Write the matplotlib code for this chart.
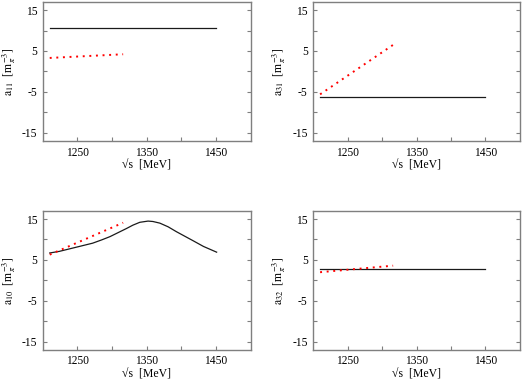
import matplotlib
matplotlib.use("Agg")
import matplotlib.pyplot as plt
import numpy as np

plt.rcParams['font.family'] = ['Liberation Serif', 'DejaVu Serif']
plt.rcParams['mathtext.fontset'] = 'stix'

# Panel data
x_full = [1210, 1450]
x_red = [1210, 1316]

a11_black = [10.6, 10.6]
a11_red = [3.3, 4.2]

a31_black = [-6.2, -6.2]
a31_red = [-5.6, 6.5]

a10_x = [1210, 1224, 1248, 1272, 1285, 1297, 1309, 1321, 1330, 1340, 1352,
         1359, 1369, 1381, 1393, 1405, 1417, 1432, 1451]
a10_black = [6.7, 7.1, 8.1, 9.1, 9.9, 10.7, 11.7, 12.7, 13.5, 14.2, 14.5,
             14.4, 14.0, 13.1, 11.9, 10.8, 9.7, 8.3, 6.9]
a10_red = [6.3, 14.1]

a32_black = [2.8, 2.8]
a32_red = [2.0, 3.6]

xticks = [1250, 1300, 1350, 1400, 1450]
xticklabels = ['1250', '', '1350', '', '1450']
yticks = [-15, -10, -5, 0, 5, 10, 15]
yticklabels = ['-15', '', '-5', '', '5', '', '15']

fig = plt.figure(figsize=(5.22, 3.82), dpi=100)

panels = [
    ([0.082, 0.631, 0.398, 0.364], '11', x_full, a11_black, x_red, a11_red),
    ([0.600, 0.631, 0.396, 0.364], '31', x_full, a31_black, x_red, a31_red),
    ([0.082, 0.084, 0.398, 0.364], '10', a10_x, a10_black, x_red, a10_red),
    ([0.600, 0.084, 0.396, 0.364], '32', x_full, a32_black, x_red, a32_red),
]

grey = '#7f7f7f'
for rect, sub, xb, yb, xr, yr in panels:
    ax = fig.add_axes(rect)
    ax.plot(xb, yb, color='#1a1a1a', lw=0.9, solid_joinstyle='round')
    ax.plot(xr, yr, color='red', lw=1.4, linestyle=(0, (1, 2.4)))
    ax.set_xlim(1200, 1500)
    ax.set_ylim(-17, 17)
    ax.set_xticks(xticks)
    ax.set_xticklabels(xticklabels)
    ax.set_yticks(yticks)
    ax.set_yticklabels(yticklabels)
    ax.tick_params(direction='in', length=3, width=0.8, color=grey, labelsize=8.3,
                   right=True, top=False, pad=4)
    for s in ax.spines.values():
        s.set_color(grey)
        s.set_linewidth(1.0)
    ax.set_xlabel('√s  [MeV]', fontsize=8.5, labelpad=1)
    ax.set_ylabel(r'$\mathrm{a}_{' + sub + r'}$  [m$_\pi^{-3}$]', fontsize=8.5, labelpad=3)

fig.savefig('out.png', dpi=100)
